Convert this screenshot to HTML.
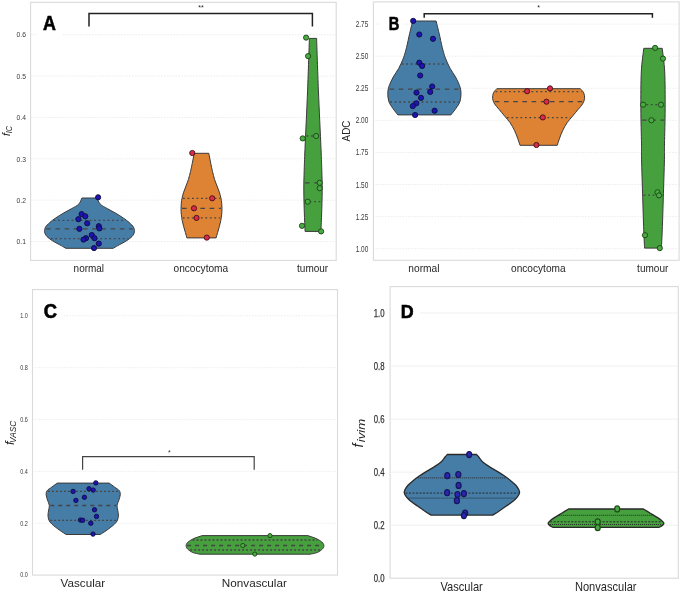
<!DOCTYPE html>
<html><head><meta charset="utf-8"><title>Violin plots</title>
<style>
html,body{margin:0;padding:0;background:#ffffff;}
body{width:685px;height:597px;overflow:hidden;}
svg{display:block;font-family:"Liberation Sans", sans-serif;will-change:transform;}
</style></head>
<body>
<svg width="685" height="597" viewBox="0 0 685 597">
<rect x="0" y="0" width="685" height="597" fill="#ffffff"/>
<rect x="30.6" y="2.3" width="305.6" height="258.1" fill="#ffffff" stroke="#dadada" stroke-width="1.1"/>
<line x1="30.6" y1="241.54" x2="336.2" y2="241.54" stroke="#e8e8e8" stroke-width="0.8" stroke-dasharray="1.6,1.3"/>
<text x="25.9" y="244.24" font-size="7.5" text-anchor="end" fill="#3a3a3a" font-weight="normal" font-style="normal" textLength="9.4" lengthAdjust="spacingAndGlyphs">0.1</text>
<line x1="30.6" y1="200.18" x2="336.2" y2="200.18" stroke="#e8e8e8" stroke-width="0.8" stroke-dasharray="1.6,1.3"/>
<text x="25.9" y="202.88" font-size="7.5" text-anchor="end" fill="#3a3a3a" font-weight="normal" font-style="normal" textLength="9.4" lengthAdjust="spacingAndGlyphs">0.2</text>
<line x1="30.6" y1="158.82" x2="336.2" y2="158.82" stroke="#e8e8e8" stroke-width="0.8" stroke-dasharray="1.6,1.3"/>
<text x="25.9" y="161.52" font-size="7.5" text-anchor="end" fill="#3a3a3a" font-weight="normal" font-style="normal" textLength="9.4" lengthAdjust="spacingAndGlyphs">0.3</text>
<line x1="30.6" y1="117.46" x2="336.2" y2="117.46" stroke="#e8e8e8" stroke-width="0.8" stroke-dasharray="1.6,1.3"/>
<text x="25.9" y="120.16" font-size="7.5" text-anchor="end" fill="#3a3a3a" font-weight="normal" font-style="normal" textLength="9.4" lengthAdjust="spacingAndGlyphs">0.4</text>
<line x1="30.6" y1="76.1" x2="336.2" y2="76.1" stroke="#e8e8e8" stroke-width="0.8" stroke-dasharray="1.6,1.3"/>
<text x="25.9" y="78.8" font-size="7.5" text-anchor="end" fill="#3a3a3a" font-weight="normal" font-style="normal" textLength="9.4" lengthAdjust="spacingAndGlyphs">0.5</text>
<line x1="30.6" y1="34.74" x2="37" y2="34.74" stroke="#e8e8e8" stroke-width="0.8" stroke-dasharray="1.6,1.3"/>
<line x1="63" y1="34.74" x2="336.2" y2="34.74" stroke="#e8e8e8" stroke-width="0.8" stroke-dasharray="1.6,1.3"/>
<text x="25.9" y="37.44" font-size="7.5" text-anchor="end" fill="#3a3a3a" font-weight="normal" font-style="normal" textLength="9.4" lengthAdjust="spacingAndGlyphs">0.6</text>
<rect x="373.4" y="1.9" width="305.7" height="258.4" fill="#ffffff" stroke="#dadada" stroke-width="1.1"/>
<line x1="373.4" y1="248.7" x2="679.1" y2="248.7" stroke="#e8e8e8" stroke-width="0.8" stroke-dasharray="1.6,1.3"/>
<text x="368.3" y="251.7" font-size="8.4" text-anchor="end" fill="#3a3a3a" font-weight="normal" font-style="normal" textLength="12.6" lengthAdjust="spacingAndGlyphs">1.00</text>
<line x1="373.4" y1="216.61" x2="679.1" y2="216.61" stroke="#e8e8e8" stroke-width="0.8" stroke-dasharray="1.6,1.3"/>
<text x="368.3" y="219.61" font-size="8.4" text-anchor="end" fill="#3a3a3a" font-weight="normal" font-style="normal" textLength="12.6" lengthAdjust="spacingAndGlyphs">1.25</text>
<line x1="373.4" y1="184.53" x2="679.1" y2="184.53" stroke="#e8e8e8" stroke-width="0.8" stroke-dasharray="1.6,1.3"/>
<text x="368.3" y="187.53" font-size="8.4" text-anchor="end" fill="#3a3a3a" font-weight="normal" font-style="normal" textLength="12.6" lengthAdjust="spacingAndGlyphs">1.50</text>
<line x1="373.4" y1="152.44" x2="679.1" y2="152.44" stroke="#e8e8e8" stroke-width="0.8" stroke-dasharray="1.6,1.3"/>
<text x="368.3" y="155.44" font-size="8.4" text-anchor="end" fill="#3a3a3a" font-weight="normal" font-style="normal" textLength="12.6" lengthAdjust="spacingAndGlyphs">1.75</text>
<line x1="373.4" y1="120.36" x2="679.1" y2="120.36" stroke="#e8e8e8" stroke-width="0.8" stroke-dasharray="1.6,1.3"/>
<text x="368.3" y="123.36" font-size="8.4" text-anchor="end" fill="#3a3a3a" font-weight="normal" font-style="normal" textLength="12.6" lengthAdjust="spacingAndGlyphs">2.00</text>
<line x1="373.4" y1="88.27" x2="679.1" y2="88.27" stroke="#e8e8e8" stroke-width="0.8" stroke-dasharray="1.6,1.3"/>
<text x="368.3" y="91.27" font-size="8.4" text-anchor="end" fill="#3a3a3a" font-weight="normal" font-style="normal" textLength="12.6" lengthAdjust="spacingAndGlyphs">2.25</text>
<line x1="373.4" y1="56.19" x2="679.1" y2="56.19" stroke="#e8e8e8" stroke-width="0.8" stroke-dasharray="1.6,1.3"/>
<text x="368.3" y="59.19" font-size="8.4" text-anchor="end" fill="#3a3a3a" font-weight="normal" font-style="normal" textLength="12.6" lengthAdjust="spacingAndGlyphs">2.50</text>
<line x1="373.4" y1="24.1" x2="380" y2="24.1" stroke="#e8e8e8" stroke-width="0.8" stroke-dasharray="1.6,1.3"/>
<line x1="403" y1="24.1" x2="679.1" y2="24.1" stroke="#e8e8e8" stroke-width="0.8" stroke-dasharray="1.6,1.3"/>
<text x="368.3" y="27.1" font-size="8.4" text-anchor="end" fill="#3a3a3a" font-weight="normal" font-style="normal" textLength="12.6" lengthAdjust="spacingAndGlyphs">2.75</text>
<rect x="32.5" y="289.6" width="305" height="285.5" fill="#ffffff" stroke="#dadada" stroke-width="1.1"/>
<text x="27.9" y="577.45" font-size="6.5" text-anchor="end" fill="#3a3a3a" font-weight="normal" font-style="normal" textLength="7.6" lengthAdjust="spacingAndGlyphs">0.0</text>
<line x1="32.5" y1="523.24" x2="337.5" y2="523.24" stroke="#eaeaea" stroke-width="0.8" stroke-dasharray="1.6,1.3"/>
<text x="27.9" y="525.59" font-size="6.5" text-anchor="end" fill="#3a3a3a" font-weight="normal" font-style="normal" textLength="7.6" lengthAdjust="spacingAndGlyphs">0.2</text>
<line x1="32.5" y1="471.38" x2="337.5" y2="471.38" stroke="#eaeaea" stroke-width="0.8" stroke-dasharray="1.6,1.3"/>
<text x="27.9" y="473.73" font-size="6.5" text-anchor="end" fill="#3a3a3a" font-weight="normal" font-style="normal" textLength="7.6" lengthAdjust="spacingAndGlyphs">0.4</text>
<line x1="32.5" y1="419.52" x2="337.5" y2="419.52" stroke="#eaeaea" stroke-width="0.8" stroke-dasharray="1.6,1.3"/>
<text x="27.9" y="421.87" font-size="6.5" text-anchor="end" fill="#3a3a3a" font-weight="normal" font-style="normal" textLength="7.6" lengthAdjust="spacingAndGlyphs">0.6</text>
<line x1="32.5" y1="367.66" x2="337.5" y2="367.66" stroke="#eaeaea" stroke-width="0.8" stroke-dasharray="1.6,1.3"/>
<text x="27.9" y="370.01" font-size="6.5" text-anchor="end" fill="#3a3a3a" font-weight="normal" font-style="normal" textLength="7.6" lengthAdjust="spacingAndGlyphs">0.8</text>
<line x1="32.5" y1="315.8" x2="33.5" y2="315.8" stroke="#eaeaea" stroke-width="0.8" stroke-dasharray="1.6,1.3"/>
<line x1="63.5" y1="315.8" x2="337.5" y2="315.8" stroke="#eaeaea" stroke-width="0.8" stroke-dasharray="1.6,1.3"/>
<text x="27.9" y="318.15" font-size="6.5" text-anchor="end" fill="#3a3a3a" font-weight="normal" font-style="normal" textLength="7.6" lengthAdjust="spacingAndGlyphs">1.0</text>
<rect x="390.1" y="286.6" width="288.2" height="291.6" fill="#ffffff" stroke="#dadada" stroke-width="1.1"/>
<text x="384.5" y="581.9" font-size="10.4" text-anchor="end" fill="#333333" font-weight="normal" font-style="normal" textLength="10.8" lengthAdjust="spacingAndGlyphs" stroke="#333" stroke-width="0.25">0.0</text>
<line x1="390.1" y1="525.24" x2="678.3" y2="525.24" stroke="#ececec" stroke-width="0.8"/>
<text x="384.5" y="528.84" font-size="10.4" text-anchor="end" fill="#333333" font-weight="normal" font-style="normal" textLength="10.8" lengthAdjust="spacingAndGlyphs" stroke="#333" stroke-width="0.25">0.2</text>
<line x1="390.1" y1="472.18" x2="678.3" y2="472.18" stroke="#ececec" stroke-width="0.8"/>
<text x="384.5" y="475.78" font-size="10.4" text-anchor="end" fill="#333333" font-weight="normal" font-style="normal" textLength="10.8" lengthAdjust="spacingAndGlyphs" stroke="#333" stroke-width="0.25">0.4</text>
<line x1="390.1" y1="419.12" x2="678.3" y2="419.12" stroke="#ececec" stroke-width="0.8"/>
<text x="384.5" y="422.72" font-size="10.4" text-anchor="end" fill="#333333" font-weight="normal" font-style="normal" textLength="10.8" lengthAdjust="spacingAndGlyphs" stroke="#333" stroke-width="0.25">0.6</text>
<line x1="390.1" y1="366.06" x2="678.3" y2="366.06" stroke="#ececec" stroke-width="0.8"/>
<text x="384.5" y="369.66" font-size="10.4" text-anchor="end" fill="#333333" font-weight="normal" font-style="normal" textLength="10.8" lengthAdjust="spacingAndGlyphs" stroke="#333" stroke-width="0.25">0.8</text>
<line x1="390.1" y1="313" x2="391" y2="313" stroke="#ececec" stroke-width="0.8"/>
<line x1="420" y1="313" x2="678.3" y2="313" stroke="#ececec" stroke-width="0.8"/>
<text x="384.5" y="316.6" font-size="10.4" text-anchor="end" fill="#333333" font-weight="normal" font-style="normal" textLength="10.8" lengthAdjust="spacingAndGlyphs" stroke="#333" stroke-width="0.25">1.0</text>
<path d="M81.9,198 L97.1,198 C97.63,199.03 98.53,202.4 100.3,204.2 C102.07,206 105.08,207.27 107.7,208.8 C110.32,210.33 113.4,211.87 116,213.4 C118.6,214.93 121.08,216.47 123.3,218 C125.52,219.53 127.6,221.07 129.3,222.6 C131,224.13 132.65,225.67 133.5,227.2 C134.35,228.73 134.63,230.27 134.4,231.8 C134.17,233.33 133.48,234.87 132.1,236.4 C130.72,237.93 128.48,239.47 126.1,241 C123.72,242.53 119.95,244.38 117.8,245.6 C115.65,246.82 113.97,247.85 113.2,248.3 L65.8,248.3 C65.03,247.85 63.35,246.82 61.2,245.6 C59.05,244.38 55.28,242.53 52.9,241 C50.52,239.47 48.28,237.93 46.9,236.4 C45.52,234.87 44.83,233.33 44.6,231.8 C44.37,230.27 44.65,228.73 45.5,227.2 C46.35,225.67 48,224.13 49.7,222.6 C51.4,221.07 53.48,219.53 55.7,218 C57.92,216.47 60.4,214.93 63,213.4 C65.6,211.87 68.68,210.33 71.3,208.8 C73.92,207.27 76.93,206 78.7,204.2 C80.47,202.4 81.37,199.03 81.9,198 Z" fill="#467da6" stroke="#3a3a3a" stroke-width="1.0" stroke-linejoin="round"/>
<line x1="53.57" y1="220.4" x2="125.43" y2="220.4" stroke="#464646" stroke-width="1.3" stroke-dasharray="1.8,2.7"/>
<line x1="46.19" y1="228.8" x2="132.81" y2="228.8" stroke="#464646" stroke-width="1.3" stroke-dasharray="4.6,4.6"/>
<line x1="50.77" y1="238.6" x2="128.23" y2="238.6" stroke="#464646" stroke-width="1.3" stroke-dasharray="1.8,2.7"/>
<circle cx="98.1" cy="197.3" r="2.6" fill="#1e14b4" stroke="#0c0c3c" stroke-width="0.9"/>
<circle cx="81.6" cy="214.1" r="2.6" fill="#1e14b4" stroke="#0c0c3c" stroke-width="0.9"/>
<circle cx="85.3" cy="216.3" r="2.6" fill="#1e14b4" stroke="#0c0c3c" stroke-width="0.9"/>
<circle cx="78.4" cy="219.2" r="2.6" fill="#1e14b4" stroke="#0c0c3c" stroke-width="0.9"/>
<circle cx="87.2" cy="223.3" r="2.6" fill="#1e14b4" stroke="#0c0c3c" stroke-width="0.9"/>
<circle cx="79.4" cy="228.8" r="2.6" fill="#1e14b4" stroke="#0c0c3c" stroke-width="0.9"/>
<circle cx="98.8" cy="226.2" r="2.6" fill="#1e14b4" stroke="#0c0c3c" stroke-width="0.9"/>
<circle cx="99.4" cy="228.4" r="2.6" fill="#1e14b4" stroke="#0c0c3c" stroke-width="0.9"/>
<circle cx="91.8" cy="235" r="2.6" fill="#1e14b4" stroke="#0c0c3c" stroke-width="0.9"/>
<circle cx="94.5" cy="238.2" r="2.6" fill="#1e14b4" stroke="#0c0c3c" stroke-width="0.9"/>
<circle cx="86" cy="238.2" r="2.6" fill="#1e14b4" stroke="#0c0c3c" stroke-width="0.9"/>
<circle cx="83.5" cy="239.6" r="2.6" fill="#1e14b4" stroke="#0c0c3c" stroke-width="0.9"/>
<circle cx="98.8" cy="243.6" r="2.6" fill="#1e14b4" stroke="#0c0c3c" stroke-width="0.9"/>
<circle cx="94" cy="248.1" r="2.6" fill="#1e14b4" stroke="#0c0c3c" stroke-width="0.9"/>
<path d="M194.2,153.3 L208.8,153.3 C209.13,155.03 210.18,160.67 210.8,163.7 C211.42,166.73 211.87,168.87 212.5,171.5 C213.13,174.13 213.85,177.08 214.6,179.5 C215.35,181.92 216.22,183.9 217,186 C217.78,188.1 218.65,190.1 219.3,192.1 C219.95,194.1 220.5,196.17 220.9,198 C221.3,199.83 221.52,201.35 221.7,203.1 C221.88,204.85 222,206.67 222,208.5 C222,210.33 221.9,212.1 221.7,214.1 C221.5,216.1 221.2,218.4 220.8,220.5 C220.4,222.6 219.83,224.7 219.3,226.7 C218.77,228.7 218.13,230.63 217.6,232.5 C217.07,234.37 216.35,237 216.1,237.9 L186.9,237.9 C186.65,237 185.93,234.37 185.4,232.5 C184.87,230.63 184.23,228.7 183.7,226.7 C183.17,224.7 182.6,222.6 182.2,220.5 C181.8,218.4 181.5,216.1 181.3,214.1 C181.1,212.1 181,210.33 181,208.5 C181,206.67 181.12,204.85 181.3,203.1 C181.48,201.35 181.7,199.83 182.1,198 C182.5,196.17 183.05,194.1 183.7,192.1 C184.35,190.1 185.22,188.1 186,186 C186.78,183.9 187.65,181.92 188.4,179.5 C189.15,177.08 189.87,174.13 190.5,171.5 C191.13,168.87 191.58,166.73 192.2,163.7 C192.82,160.67 193.87,155.03 194.2,153.3 Z" fill="#dd8333" stroke="#3a3a3a" stroke-width="1.0" stroke-linejoin="round"/>
<line x1="183.05" y1="198.3" x2="219.95" y2="198.3" stroke="#464646" stroke-width="1.3" stroke-dasharray="1.8,2.7"/>
<line x1="182.01" y1="208.3" x2="220.99" y2="208.3" stroke="#464646" stroke-width="1.3" stroke-dasharray="4.6,4.6"/>
<line x1="182.83" y1="217.9" x2="220.17" y2="217.9" stroke="#464646" stroke-width="1.3" stroke-dasharray="1.8,2.7"/>
<circle cx="192.3" cy="153" r="2.6" fill="#dc2a48" stroke="#401018" stroke-width="0.9"/>
<circle cx="212.2" cy="198.3" r="2.6" fill="#dc2a48" stroke="#401018" stroke-width="0.9"/>
<circle cx="194" cy="208.3" r="2.6" fill="#dc2a48" stroke="#401018" stroke-width="0.9"/>
<circle cx="196.5" cy="217.9" r="2.6" fill="#dc2a48" stroke="#401018" stroke-width="0.9"/>
<circle cx="206.8" cy="237.6" r="2.6" fill="#dc2a48" stroke="#401018" stroke-width="0.9"/>
<path d="M309.4,38.4 L316.6,38.4 C316.9,47.03 317.67,71.85 318.4,90.2 C319.13,108.55 320.43,135.17 321,148.5 C321.57,161.83 321.6,163.25 321.8,170.2 C322,177.15 322.23,182.73 322.2,190.2 C322.17,197.67 321.82,208.13 321.6,215 C321.38,221.87 321.02,228.67 320.9,231.4 L305.1,231.4 C304.98,228.67 304.62,221.87 304.4,215 C304.18,208.13 303.83,197.67 303.8,190.2 C303.77,182.73 304,177.15 304.2,170.2 C304.4,163.25 304.43,161.83 305,148.5 C305.57,135.17 306.87,108.55 307.6,90.2 C308.33,71.85 309.1,47.03 309.4,38.4 Z" fill="#45a03d" stroke="#3a3a3a" stroke-width="1.0" stroke-linejoin="round"/>
<line x1="306.56" y1="136" x2="319.44" y2="136" stroke="#464646" stroke-width="1.3" stroke-dasharray="1.8,2.7"/>
<line x1="304.95" y1="182.8" x2="321.05" y2="182.8" stroke="#464646" stroke-width="1.3" stroke-dasharray="4.6,4.6"/>
<line x1="305.08" y1="201.7" x2="320.92" y2="201.7" stroke="#464646" stroke-width="1.3" stroke-dasharray="1.8,2.7"/>
<circle cx="306.1" cy="37.6" r="2.6" fill="#4aab42" stroke="#1a4416" stroke-width="0.9"/>
<circle cx="308.1" cy="56.1" r="2.6" fill="#4aab42" stroke="#1a4416" stroke-width="0.9"/>
<circle cx="302.7" cy="138.4" r="2.6" fill="#4aab42" stroke="#1a4416" stroke-width="0.9"/>
<circle cx="316.1" cy="136" r="2.6" fill="#4aab42" stroke="#1a4416" stroke-width="0.9"/>
<circle cx="319.7" cy="182.8" r="2.6" fill="#4aab42" stroke="#1a4416" stroke-width="0.9"/>
<circle cx="319.7" cy="188.2" r="2.6" fill="#4aab42" stroke="#1a4416" stroke-width="0.9"/>
<circle cx="307.7" cy="201.7" r="2.6" fill="#4aab42" stroke="#1a4416" stroke-width="0.9"/>
<circle cx="302" cy="225.8" r="2.6" fill="#4aab42" stroke="#1a4416" stroke-width="0.9"/>
<circle cx="321.1" cy="231.4" r="2.6" fill="#4aab42" stroke="#1a4416" stroke-width="0.9"/>
<path d="M412.7,21 L436.1,21 C436.61,23.07 438.12,29 439.15,33.4 C440.17,37.8 441.23,43.33 442.25,47.4 C443.27,51.47 444,54.32 445.3,57.8 C446.6,61.28 448.34,65.1 450.05,68.3 C451.76,71.5 453.96,74.1 455.55,77 C457.14,79.9 458.69,83.08 459.6,85.7 C460.51,88.32 460.93,90.08 461,92.7 C461.07,95.32 460.83,98.8 460,101.4 C459.17,104 457.52,106.05 456,108.3 C454.48,110.55 451.75,113.8 450.9,114.9 L397.9,114.9 C397.05,113.8 394.32,110.55 392.8,108.3 C391.28,106.05 389.63,104 388.8,101.4 C387.97,98.8 387.73,95.32 387.8,92.7 C387.87,90.08 388.29,88.32 389.2,85.7 C390.11,83.08 391.66,79.9 393.25,77 C394.84,74.1 397.04,71.5 398.75,68.3 C400.46,65.1 402.2,61.28 403.5,57.8 C404.8,54.32 405.52,51.47 406.55,47.4 C407.57,43.33 408.62,37.8 409.65,33.4 C410.67,29 412.19,23.07 412.7,21 Z" fill="#467da6" stroke="#3a3a3a" stroke-width="1.0" stroke-linejoin="round"/>
<line x1="401.7" y1="64" x2="447.1" y2="64" stroke="#464646" stroke-width="1.3" stroke-dasharray="1.8,2.7"/>
<line x1="389.52" y1="89.1" x2="459.28" y2="89.1" stroke="#464646" stroke-width="1.3" stroke-dasharray="4.6,4.6"/>
<line x1="390.15" y1="102" x2="458.65" y2="102" stroke="#464646" stroke-width="1.3" stroke-dasharray="1.8,2.7"/>
<circle cx="413.2" cy="20.9" r="2.6" fill="#1e14b4" stroke="#0c0c3c" stroke-width="0.9"/>
<circle cx="419.3" cy="34.5" r="2.6" fill="#1e14b4" stroke="#0c0c3c" stroke-width="0.9"/>
<circle cx="433" cy="38.8" r="2.6" fill="#1e14b4" stroke="#0c0c3c" stroke-width="0.9"/>
<circle cx="419.3" cy="62.7" r="2.6" fill="#1e14b4" stroke="#0c0c3c" stroke-width="0.9"/>
<circle cx="422.1" cy="65.9" r="2.6" fill="#1e14b4" stroke="#0c0c3c" stroke-width="0.9"/>
<circle cx="420.2" cy="75.5" r="2.6" fill="#1e14b4" stroke="#0c0c3c" stroke-width="0.9"/>
<circle cx="432.2" cy="86.5" r="2.6" fill="#1e14b4" stroke="#0c0c3c" stroke-width="0.9"/>
<circle cx="430.2" cy="91.9" r="2.6" fill="#1e14b4" stroke="#0c0c3c" stroke-width="0.9"/>
<circle cx="416.5" cy="92.6" r="2.6" fill="#1e14b4" stroke="#0c0c3c" stroke-width="0.9"/>
<circle cx="421" cy="97.8" r="2.6" fill="#1e14b4" stroke="#0c0c3c" stroke-width="0.9"/>
<circle cx="416.3" cy="103.3" r="2.6" fill="#1e14b4" stroke="#0c0c3c" stroke-width="0.9"/>
<circle cx="412.8" cy="106.1" r="2.6" fill="#1e14b4" stroke="#0c0c3c" stroke-width="0.9"/>
<circle cx="434.6" cy="110.7" r="2.6" fill="#1e14b4" stroke="#0c0c3c" stroke-width="0.9"/>
<circle cx="415.1" cy="115" r="2.6" fill="#1e14b4" stroke="#0c0c3c" stroke-width="0.9"/>
<path d="M496.8,88.7 L580.4,88.7 C580.95,89.38 583,91.18 583.7,92.8 C584.4,94.42 584.78,96.55 584.6,98.4 C584.42,100.25 583.68,102.07 582.6,103.9 C581.52,105.73 579.77,107.37 578.1,109.4 C576.43,111.43 574.43,113.88 572.6,116.1 C570.77,118.32 568.75,120.3 567.1,122.7 C565.45,125.1 563.95,127.92 562.7,130.5 C561.45,133.08 560.52,135.73 559.6,138.2 C558.68,140.67 557.6,144.12 557.2,145.3 L520,145.3 C519.6,144.12 518.52,140.67 517.6,138.2 C516.68,135.73 515.75,133.08 514.5,130.5 C513.25,127.92 511.75,125.1 510.1,122.7 C508.45,120.3 506.43,118.32 504.6,116.1 C502.77,113.88 500.77,111.43 499.1,109.4 C497.43,107.37 495.68,105.73 494.6,103.9 C493.52,102.07 492.78,100.25 492.6,98.4 C492.42,96.55 492.8,94.42 493.5,92.8 C494.2,91.18 496.25,89.38 496.8,88.7 Z" fill="#dd8333" stroke="#3a3a3a" stroke-width="1.0" stroke-linejoin="round"/>
<line x1="495.47" y1="91.6" x2="581.73" y2="91.6" stroke="#464646" stroke-width="1.3" stroke-dasharray="1.8,2.7"/>
<line x1="494.8" y1="101.7" x2="582.4" y2="101.7" stroke="#464646" stroke-width="1.3" stroke-dasharray="4.6,4.6"/>
<line x1="506.93" y1="117.7" x2="570.27" y2="117.7" stroke="#464646" stroke-width="1.3" stroke-dasharray="1.8,2.7"/>
<circle cx="550" cy="88.4" r="2.6" fill="#dc2a48" stroke="#401018" stroke-width="0.9"/>
<circle cx="527.1" cy="91.2" r="2.6" fill="#dc2a48" stroke="#401018" stroke-width="0.9"/>
<circle cx="546.5" cy="101.7" r="2.6" fill="#dc2a48" stroke="#401018" stroke-width="0.9"/>
<circle cx="542.8" cy="117.4" r="2.6" fill="#dc2a48" stroke="#401018" stroke-width="0.9"/>
<circle cx="536.4" cy="145" r="2.6" fill="#dc2a48" stroke="#401018" stroke-width="0.9"/>
<path d="M643.8,48.3 L662.2,48.3 C662.62,52.23 664.21,61.82 664.7,71.9 C665.19,81.98 665.18,96.8 665.15,108.8 C665.12,120.8 664.62,135.5 664.5,143.9 C664.38,152.3 664.65,150.23 664.45,159.2 C664.25,168.17 663.64,186.48 663.3,197.7 C662.96,208.92 662.71,218.1 662.4,226.5 C662.09,234.9 661.61,244.5 661.45,248.1 L644.55,248.1 C644.39,244.5 643.91,234.9 643.6,226.5 C643.29,218.1 643.04,208.92 642.7,197.7 C642.36,186.48 641.75,168.17 641.55,159.2 C641.35,150.23 641.62,152.3 641.5,143.9 C641.38,135.5 640.88,120.8 640.85,108.8 C640.82,96.8 640.81,81.98 641.3,71.9 C641.79,61.82 643.38,52.23 643.8,48.3 Z" fill="#45a03d" stroke="#3a3a3a" stroke-width="1.0" stroke-linejoin="round"/>
<line x1="641.9" y1="104.7" x2="664.1" y2="104.7" stroke="#464646" stroke-width="1.3" stroke-dasharray="1.8,2.7"/>
<line x1="642.06" y1="120.2" x2="663.94" y2="120.2" stroke="#464646" stroke-width="1.3" stroke-dasharray="4.6,4.6"/>
<line x1="643.63" y1="195.2" x2="662.37" y2="195.2" stroke="#464646" stroke-width="1.3" stroke-dasharray="1.8,2.7"/>
<circle cx="655.1" cy="47.9" r="2.6" fill="#4aab42" stroke="#1a4416" stroke-width="0.9"/>
<circle cx="663" cy="58.6" r="2.6" fill="#4aab42" stroke="#1a4416" stroke-width="0.9"/>
<circle cx="643.1" cy="104.7" r="2.6" fill="#4aab42" stroke="#1a4416" stroke-width="0.9"/>
<circle cx="661" cy="104.7" r="2.6" fill="#4aab42" stroke="#1a4416" stroke-width="0.9"/>
<circle cx="651.4" cy="120.2" r="2.6" fill="#4aab42" stroke="#1a4416" stroke-width="0.9"/>
<circle cx="657.5" cy="192.3" r="2.6" fill="#4aab42" stroke="#1a4416" stroke-width="0.9"/>
<circle cx="659" cy="195.4" r="2.6" fill="#4aab42" stroke="#1a4416" stroke-width="0.9"/>
<circle cx="645" cy="235.2" r="2.6" fill="#4aab42" stroke="#1a4416" stroke-width="0.9"/>
<circle cx="659.8" cy="248.1" r="2.6" fill="#4aab42" stroke="#1a4416" stroke-width="0.9"/>
<path d="M57.2,483.1 L109.2,483.1 C110.08,483.75 112.8,485.72 114.5,487 C116.2,488.28 118.45,489.47 119.4,490.8 C120.35,492.13 120.28,493.47 120.2,495 C120.12,496.53 119.42,498.28 118.9,500 C118.38,501.72 117.3,503.63 117.1,505.3 C116.9,506.97 117.48,508.38 117.7,510 C117.92,511.62 118.43,513.33 118.4,515 C118.37,516.67 118.17,518.47 117.5,520 C116.83,521.53 116.18,522.5 114.4,524.2 C112.62,525.9 109.16,528.48 106.8,530.2 C104.44,531.92 101.34,533.78 100.25,534.5 L66.15,534.5 C65.06,533.78 61.96,531.92 59.6,530.2 C57.24,528.48 53.78,525.9 52,524.2 C50.22,522.5 49.57,521.53 48.9,520 C48.23,518.47 48.03,516.67 48,515 C47.97,513.33 48.48,511.62 48.7,510 C48.92,508.38 49.5,506.97 49.3,505.3 C49.1,503.63 48.02,501.72 47.5,500 C46.98,498.28 46.28,496.53 46.2,495 C46.12,493.47 46.05,492.13 47,490.8 C47.95,489.47 50.2,488.28 51.9,487 C53.6,485.72 56.32,483.75 57.2,483.1 Z" fill="#467da6" stroke="#3a3a3a" stroke-width="1.0" stroke-linejoin="round"/>
<line x1="47.89" y1="491.4" x2="118.51" y2="491.4" stroke="#464646" stroke-width="1.3" stroke-dasharray="2,2"/>
<line x1="50.27" y1="505.5" x2="116.13" y2="505.5" stroke="#464646" stroke-width="1.3" stroke-dasharray="4,4"/>
<line x1="50.12" y1="520.3" x2="116.28" y2="520.3" stroke="#464646" stroke-width="1.3" stroke-dasharray="2,2"/>
<circle cx="95.8" cy="482.9" r="2.2" fill="#1e14b4" stroke="#0c0c3c" stroke-width="0.9"/>
<circle cx="89" cy="488.8" r="2.2" fill="#1e14b4" stroke="#0c0c3c" stroke-width="0.9"/>
<circle cx="93.2" cy="490.1" r="2.2" fill="#1e14b4" stroke="#0c0c3c" stroke-width="0.9"/>
<circle cx="73.1" cy="491.4" r="2.2" fill="#1e14b4" stroke="#0c0c3c" stroke-width="0.9"/>
<circle cx="84.4" cy="497.3" r="2.2" fill="#1e14b4" stroke="#0c0c3c" stroke-width="0.9"/>
<circle cx="75.9" cy="500.4" r="2.2" fill="#1e14b4" stroke="#0c0c3c" stroke-width="0.9"/>
<circle cx="94.5" cy="509.8" r="2.2" fill="#1e14b4" stroke="#0c0c3c" stroke-width="0.9"/>
<circle cx="96.5" cy="516.4" r="2.2" fill="#1e14b4" stroke="#0c0c3c" stroke-width="0.9"/>
<circle cx="80.5" cy="520.1" r="2.2" fill="#1e14b4" stroke="#0c0c3c" stroke-width="0.9"/>
<circle cx="82.7" cy="520.3" r="2.2" fill="#1e14b4" stroke="#0c0c3c" stroke-width="0.9"/>
<circle cx="90.8" cy="523.2" r="2.2" fill="#1e14b4" stroke="#0c0c3c" stroke-width="0.9"/>
<circle cx="93" cy="534.1" r="2.2" fill="#1e14b4" stroke="#0c0c3c" stroke-width="0.9"/>
<path d="M202.2,535.6 L307.8,535.6 C309.17,536.08 313.67,537.43 316,538.5 C318.33,539.57 320.48,540.83 321.8,542 C323.12,543.17 323.8,544.33 323.9,545.5 C324,546.67 323.52,547.83 322.4,549 C321.28,550.17 319.27,551.63 317.2,552.5 C315.13,553.37 311.2,553.92 310,554.2 L200,554.2 C198.8,553.92 194.87,553.37 192.8,552.5 C190.73,551.63 188.72,550.17 187.6,549 C186.48,547.83 186,546.67 186.1,545.5 C186.2,544.33 186.88,543.17 188.2,542 C189.52,540.83 191.67,539.57 194,538.5 C196.33,537.43 200.83,536.08 202.2,535.6 Z" fill="#45a03d" stroke="#3a3a3a" stroke-width="1.0" stroke-linejoin="round"/>
<line x1="192.51" y1="540" x2="317.49" y2="540" stroke="#464646" stroke-width="1.3" stroke-dasharray="2,2"/>
<line x1="187.1" y1="545.5" x2="322.9" y2="545.5" stroke="#464646" stroke-width="1.3" stroke-dasharray="4,4"/>
<line x1="190.09" y1="550" x2="319.91" y2="550" stroke="#464646" stroke-width="1.3" stroke-dasharray="2,2"/>
<circle cx="270" cy="535.6" r="2.1" fill="#4aab42" stroke="#1a4416" stroke-width="0.9"/>
<circle cx="242.8" cy="545.5" r="2.1" fill="#4aab42" stroke="#1a4416" stroke-width="0.9"/>
<circle cx="254.8" cy="554.1" r="2.1" fill="#4aab42" stroke="#1a4416" stroke-width="0.9"/>
<path d="M447.3,454.5 L476.5,454.5 C476.87,454.92 477.7,455.8 478.7,457 C479.7,458.2 480.8,460.13 482.5,461.7 C484.2,463.27 486.52,464.83 488.9,466.4 C491.28,467.97 494.25,469.53 496.8,471.1 C499.35,472.67 501.92,474.23 504.2,475.8 C506.48,477.37 508.57,478.93 510.5,480.5 C512.43,482.07 514.4,483.63 515.8,485.2 C517.2,486.77 518.28,488.63 518.9,489.9 C519.52,491.17 519.75,491.63 519.5,492.8 C519.25,493.97 518.53,495.43 517.4,496.9 C516.27,498.37 514.62,500.03 512.7,501.6 C510.78,503.17 508.15,504.73 505.9,506.3 C503.65,507.87 501.4,509.53 499.2,511 C497,512.47 493.78,514.42 492.7,515.1 L431.1,515.1 C430.02,514.42 426.8,512.47 424.6,511 C422.4,509.53 420.15,507.87 417.9,506.3 C415.65,504.73 413.02,503.17 411.1,501.6 C409.18,500.03 407.53,498.37 406.4,496.9 C405.27,495.43 404.55,493.97 404.3,492.8 C404.05,491.63 404.28,491.17 404.9,489.9 C405.52,488.63 406.6,486.77 408,485.2 C409.4,483.63 411.37,482.07 413.3,480.5 C415.23,478.93 417.32,477.37 419.6,475.8 C421.88,474.23 424.45,472.67 427,471.1 C429.55,469.53 432.52,467.97 434.9,466.4 C437.28,464.83 439.6,463.27 441.3,461.7 C443,460.13 444.1,458.2 445.1,457 C446.1,455.8 446.93,454.92 447.3,454.5 Z" fill="#467da6" stroke="#2a2a2a" stroke-width="1.3" stroke-linejoin="round"/>
<line x1="417.79" y1="477.9" x2="506.01" y2="477.9" stroke="#2a2a2a" stroke-width="1.0" stroke-dasharray="1,1"/>
<line x1="405.45" y1="493.1" x2="518.35" y2="493.1" stroke="#2a2a2a" stroke-width="1.0" stroke-dasharray="2,1.5"/>
<line x1="408.6" y1="498.1" x2="515.2" y2="498.1" stroke="#2a2a2a" stroke-width="1.0" stroke-dasharray="1,1"/>
<ellipse cx="469.2" cy="454.6" rx="2.5" ry="3.0" fill="#2a26b0" stroke="#16165a" stroke-width="1.2"/>
<ellipse cx="447.3" cy="475.7" rx="2.5" ry="3.0" fill="#2a26b0" stroke="#16165a" stroke-width="1.2"/>
<ellipse cx="458.3" cy="474.5" rx="2.5" ry="3.0" fill="#2a26b0" stroke="#16165a" stroke-width="1.2"/>
<ellipse cx="458.6" cy="485.4" rx="2.5" ry="3.0" fill="#2a26b0" stroke="#16165a" stroke-width="1.2"/>
<ellipse cx="447.1" cy="492.7" rx="2.5" ry="3.0" fill="#2a26b0" stroke="#16165a" stroke-width="1.2"/>
<ellipse cx="457.5" cy="494.5" rx="2.5" ry="3.0" fill="#2a26b0" stroke="#16165a" stroke-width="1.2"/>
<ellipse cx="463.9" cy="493.6" rx="2.5" ry="3.0" fill="#2a26b0" stroke="#16165a" stroke-width="1.2"/>
<ellipse cx="456.9" cy="500.7" rx="2.5" ry="3.0" fill="#2a26b0" stroke="#16165a" stroke-width="1.2"/>
<ellipse cx="465.1" cy="513.2" rx="2.5" ry="3.0" fill="#2a26b0" stroke="#16165a" stroke-width="1.2"/>
<ellipse cx="463.9" cy="515.6" rx="2.5" ry="3.0" fill="#2a26b0" stroke="#16165a" stroke-width="1.2"/>
<path d="M568.6,509 L643.4,509 C644.55,509.7 648,511.8 650.3,513.2 C652.6,514.6 655.32,516.18 657.2,517.4 C659.08,518.62 660.48,519.57 661.6,520.5 C662.72,521.43 663.78,522.17 663.9,523 C664.02,523.83 663.12,524.77 662.3,525.5 C661.48,526.23 659.55,527.08 659,527.4 L553,527.4 C552.45,527.08 550.52,526.23 549.7,525.5 C548.88,524.77 547.98,523.83 548.1,523 C548.22,522.17 549.28,521.43 550.4,520.5 C551.52,519.57 552.92,518.62 554.8,517.4 C556.68,516.18 559.4,514.6 561.7,513.2 C564,511.8 567.45,509.7 568.6,509 Z" fill="#45a03d" stroke="#2a2a2a" stroke-width="1.3" stroke-linejoin="round"/>
<line x1="559.25" y1="515.3" x2="652.75" y2="515.3" stroke="#2a2a2a" stroke-width="1.0" stroke-dasharray="1,1"/>
<line x1="550.2" y1="521.8" x2="661.8" y2="521.8" stroke="#2a2a2a" stroke-width="1.0" stroke-dasharray="2,1.5"/>
<line x1="550.06" y1="524.5" x2="661.94" y2="524.5" stroke="#2a2a2a" stroke-width="1.0" stroke-dasharray="1,1"/>
<ellipse cx="617.2" cy="508.9" rx="2.5" ry="3.0" fill="#4aa842" stroke="#1e4a1a" stroke-width="1.2"/>
<ellipse cx="597.7" cy="521.8" rx="2.5" ry="3.0" fill="#4aa842" stroke="#1e4a1a" stroke-width="1.2"/>
<ellipse cx="597.7" cy="527.7" rx="2.5" ry="3.0" fill="#4aa842" stroke="#1e4a1a" stroke-width="1.2"/>
<path d="M89,26.5 L89,13.4 L312.4,13.4 L312.4,26.5" fill="none" stroke="#222222" stroke-width="1.5"/>
<text x="201" y="9.6" font-size="7" text-anchor="middle" fill="#222222" font-weight="normal" font-style="normal">**</text>
<path d="M424.2,17.7 L424.2,13.7 L652.4,13.7 L652.4,17.8" fill="none" stroke="#222222" stroke-width="1.5"/>
<text x="538.6" y="10" font-size="7" text-anchor="middle" fill="#222222" font-weight="normal" font-style="normal">*</text>
<path d="M82.6,469.8 L82.6,456.6 L254.2,456.6 L254.2,469.8" fill="none" stroke="#444444" stroke-width="1.2"/>
<text x="169.3" y="455.2" font-size="7" text-anchor="middle" fill="#333333" font-weight="normal" font-style="normal">*</text>
<text x="43.1" y="30" font-size="19.4" text-anchor="start" fill="#000000" font-weight="bold" font-style="normal" textLength="12.9" lengthAdjust="spacingAndGlyphs" stroke="#000" stroke-width="0.6">A</text>
<text x="388.8" y="30" font-size="19" text-anchor="start" fill="#000000" font-weight="bold" font-style="normal" textLength="10.6" lengthAdjust="spacingAndGlyphs" stroke="#000" stroke-width="0.6">B</text>
<text x="43.8" y="318.2" font-size="19.4" text-anchor="start" fill="#000000" font-weight="bold" font-style="normal" textLength="13.3" lengthAdjust="spacingAndGlyphs" stroke="#000" stroke-width="0.6">C</text>
<text x="400.8" y="317.9" font-size="19" text-anchor="start" fill="#000000" font-weight="bold" font-style="normal" textLength="12.9" lengthAdjust="spacingAndGlyphs" stroke="#000" stroke-width="0.6">D</text>
<text x="73.6" y="271.9" font-size="10.8" text-anchor="start" fill="#262626" font-weight="normal" font-style="normal" textLength="30.5" lengthAdjust="spacingAndGlyphs">normal</text>
<text x="173.5" y="271.9" font-size="10.8" text-anchor="start" fill="#262626" font-weight="normal" font-style="normal" textLength="54.7" lengthAdjust="spacingAndGlyphs">oncocytoma</text>
<text x="297.1" y="271.9" font-size="10.8" text-anchor="start" fill="#262626" font-weight="normal" font-style="normal" textLength="31.1" lengthAdjust="spacingAndGlyphs">tumour</text>
<text x="408.3" y="271.9" font-size="10.8" text-anchor="start" fill="#262626" font-weight="normal" font-style="normal" textLength="31.2" lengthAdjust="spacingAndGlyphs">normal</text>
<text x="511" y="271.9" font-size="10.8" text-anchor="start" fill="#262626" font-weight="normal" font-style="normal" textLength="54.6" lengthAdjust="spacingAndGlyphs">oncocytoma</text>
<text x="637.1" y="271.9" font-size="10.8" text-anchor="start" fill="#262626" font-weight="normal" font-style="normal" textLength="31.2" lengthAdjust="spacingAndGlyphs">tumour</text>
<text x="60.6" y="587" font-size="11.2" text-anchor="start" fill="#262626" font-weight="normal" font-style="normal" textLength="44.5" lengthAdjust="spacingAndGlyphs">Vascular</text>
<text x="221.8" y="586.8" font-size="11.2" text-anchor="start" fill="#262626" font-weight="normal" font-style="normal" textLength="65.1" lengthAdjust="spacingAndGlyphs">Nonvascular</text>
<text x="440.5" y="591.2" font-size="12.6" text-anchor="start" fill="#262626" font-weight="normal" font-style="normal" textLength="42.3" lengthAdjust="spacingAndGlyphs">Vascular</text>
<text x="574.9" y="591.3" font-size="12.6" text-anchor="start" fill="#262626" font-weight="normal" font-style="normal" textLength="61.6" lengthAdjust="spacingAndGlyphs">Nonvascular</text>
<text transform="translate(9.9,136) rotate(-90)" font-size="10.8" fill="#262626" font-style="italic">f</text>
<text transform="translate(12,133.3) rotate(-90)" font-size="9.2" fill="#262626" font-style="italic" textLength="7.3" lengthAdjust="spacingAndGlyphs">IC</text>
<text transform="translate(350.3,141.4) rotate(-90)" font-size="10" fill="#262626" font-style="normal" textLength="20.8" lengthAdjust="spacingAndGlyphs">ADC</text>
<text transform="translate(14,445) rotate(-90)" font-size="13" fill="#262626" font-style="italic">f</text>
<text transform="translate(15.8,442.9) rotate(-90)" font-size="8.8" fill="#262626" font-style="italic" textLength="22" lengthAdjust="spacingAndGlyphs">VASC</text>
<text transform="translate(362.8,447.6) rotate(-90)" font-size="14.5" fill="#262626" font-style="italic">f</text>
<text transform="translate(365.1,442.2) rotate(-90)" font-size="10.2" fill="#262626" font-style="italic" textLength="23.4" lengthAdjust="spacingAndGlyphs">ivim</text>
</svg>
</body></html>
